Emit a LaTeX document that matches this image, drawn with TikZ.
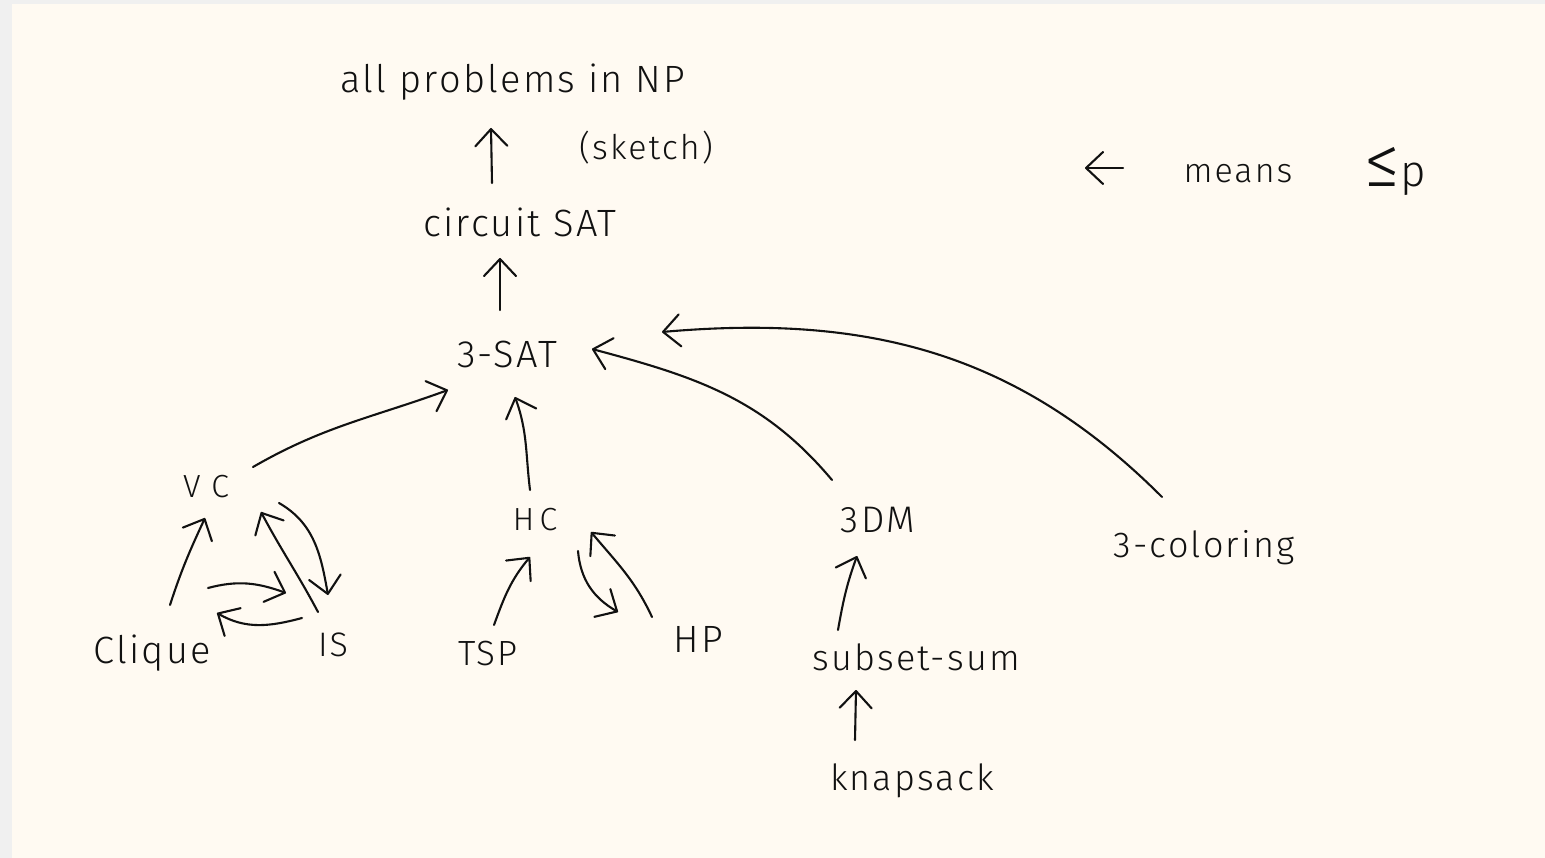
\documentclass[tikz,border=0pt]{standalone}
\usepackage{fontspec}
\newfontfamily\handfont{Fira Sans}[UprightFont=* Light, LetterSpace=6]
\usetikzlibrary{arrows.meta,calc}
\definecolor{paper}{HTML}{FFFAF2}
\definecolor{frame}{HTML}{F0F0F0}
\definecolor{ink}{HTML}{111111}
\tikzset{
  lbl/.style={anchor=base, inner sep=0pt, text=ink,
    font=\handfont\fontsize{#1}{#1}\selectfont},
  lbl/.default=38,
  red/.style={draw=ink, line width=2.1pt, line cap=round, line join=round,
    -{Straight Barb[length=17pt,width=32pt,round]}},
}
\begin{document}
\begin{tikzpicture}[x=1pt,y=1pt]
  % page and sheet
  \fill[frame] (0,0) rectangle (1545,-858);
  \fill[paper] (12,-4) rectangle (1545,-858);
  \useasboundingbox (0,0) rectangle (1545,-858);

  % problems
  \node[lbl]     (allnp)  at (513,-93)  {all problems in NP};
  \node[lbl=34]  (sketch) at (646,-160) {(sketch)};
  \node[lbl]     (circ)   at (520,-237) {circuit SAT};
  \node[lbl]     (sat)    at (507,-368) {3-SAT};
  \node[lbl=32]  (vc)     at (206,-497) {V\,\,C};
  \node[lbl=32]  (hc)     at (535,-530) {H\,C};
  \node[lbl=37]  (dm)     at (878,-532) {3DM};
  \node[lbl=36]  (col)    at (1204,-557) {3-coloring};
  \node[lbl]     (clq)    at (152,-663) {Clique};
  \node[lbl=34]  (is)     at (333,-656) {IS};
  \node[lbl=35]  (tsp)    at (488,-665) {TSP};
  \node[lbl]     (hp)     at (698,-652) {HP};
  \node[lbl=36]  (ss)     at (916,-670) {subset-sum};
  \node[lbl=36]  (knap)   at (912,-790) {knapsack};

  % legend
  \node[lbl=34]  (means)  at (1238,-183) {means};
  \node[lbl=44]  (lep)    at (1395,-187) {{\fontsize{72}{72}\selectfont ≤}p};
  \coordinate (legA) at ($(means.base)+(-115,15)$);
  \coordinate (legB) at ($(means.base)+(-153,15)$);
  \draw[red] (legA) -- (legB);

  % reductions
  \draw[red] ($(circ.base)+(-28,54)$) -- ($(allnp.base)+(-22,-35)$);
  \draw[red] ($(sat.base)+(-7,58)$) -- ($(circ.base)+(-20,-21)$);
  \draw[red] ($(vc.base)+(47,30)$) to[out=30,in=200] ($(sat.base)+(-59,-22)$);
  \draw[red] ($(hc.base)+(-5,40)$) to[out=97,in=-70] ($(sat.base)+(8,-29)$);
  \draw[red] ($(dm.base)+(-46,52)$) to[out=130,in=-15] ($(sat.base)+(85,19)$);
  \draw[red] ($(col.base)+(-42,60)$) to[out=135,in=5] ($(sat.base)+(155,36)$);

  \draw[red] ($(clq.base)+(18,58)$) to[out=72,in=-115] ($(vc.base)+(-1,-21)$);
  \draw[red] ($(vc.base)+(73,-6)$) to[out=-30,in=100] ($(is.base)+(-5,61)$);
  \draw[red] ($(is.base)+(-15,44)$) to[out=118,in=-62] ($(vc.base)+(55,-15)$);
  \draw[red] ($(clq.base)+(56,75)$) to[out=15,in=160] ($(is.base)+(-47,63)$);
  \draw[red] ($(is.base)+(-31,38)$) to[out=195,in=-30] ($(clq.base)+(65,50)$);

  \draw[red] ($(tsp.base)+(6,40)$) to[out=70,in=-130] ($(hc.base)+(-5,-27)$);
  \draw[red] ($(hc.base)+(43,-21)$) to[out=-85,in=150] ($(hp.base)+(-80,40)$);
  \draw[red] ($(hp.base)+(-46,35)$) to[out=115,in=-50] ($(hc.base)+(56,-2)$);

  \draw[red] ($(ss.base)+(-78,40)$) to[out=80,in=-110] ($(dm.base)+(-21,-24)$);
  \draw[red] ($(knap.base)+(-57,50)$) -- ($(ss.base)+(-60,-20)$);
\end{tikzpicture}
\end{document}
